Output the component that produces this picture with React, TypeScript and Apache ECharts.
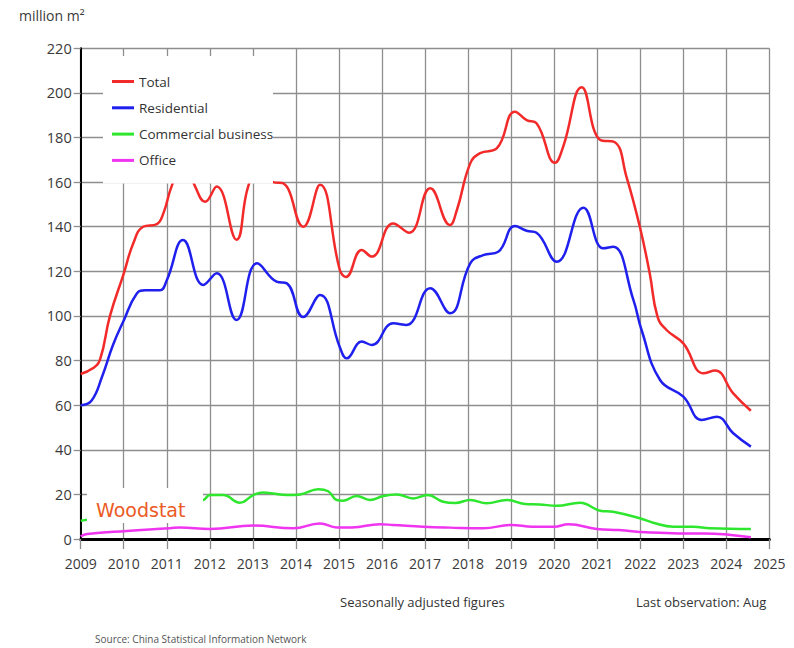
import React, { useEffect, useRef } from "react";
import * as echarts from "echarts";

// ---- Data ----
const seriesNames = ["Total", "Residential", "Commercial business", "Office"];
const xTickYears = [2009, 2025];

const totalT = [2009.0, 2009.28, 2009.45, 2009.68, 2010.0, 2010.22, 2010.45, 2010.77, 2010.92, 2011.11, 2011.4, 2011.66, 2011.89, 2012.16, 2012.62, 2012.89, 2013.15, 2013.47, 2013.7, 2014.17, 2014.56, 2015.02, 2015.16, 2015.53, 2015.76, 2016.26, 2016.63, 2017.12, 2017.58, 2017.74, 2018.05, 2018.28, 2018.67, 2019.09, 2019.36, 2019.59, 2020.02, 2020.21, 2020.64, 2021.07, 2021.4, 2021.68, 2021.99, 2022.22, 2022.4, 2022.61, 2023.0, 2023.47, 2023.74, 2024.16, 2024.57];
const totalV = [74, 76.5, 80.5, 100, 119, 132.5, 140, 141.2, 146, 158, 170, 158, 151.2, 158, 134.2, 158, 166, 160, 159.5, 140, 158.8, 120.6, 117.5, 129.6, 126.6, 141.5, 137.3, 157.2, 140.8, 147.5, 168.4, 173, 175.2, 191.6, 187.8, 186.4, 168.7, 175.9, 202.5, 178.9, 178, 162.4, 140, 119, 99.7, 93.7, 87.7, 74.3, 75.5, 65.3, 57.5];

const resT = [2009.0, 2009.25, 2009.5, 2009.75, 2010.0, 2010.3, 2010.5, 2010.84, 2011.0, 2011.38, 2011.85, 2012.16, 2012.62, 2013.1, 2013.55, 2013.79, 2014.17, 2014.56, 2015.02, 2015.18, 2015.53, 2015.76, 2016.26, 2016.57, 2017.12, 2017.58, 2018.05, 2018.35, 2018.7, 2019.09, 2019.36, 2019.59, 2020.06, 2020.68, 2021.14, 2021.37, 2021.84, 2022.03, 2022.46, 2023.0, 2023.43, 2023.78, 2024.16, 2024.57];
const resV = [60, 62, 73, 87, 98, 110, 111.5, 111.5, 116, 134, 113.9, 119.1, 98.2, 123.6, 115.4, 114.6, 99.5, 109.4, 86, 81, 88.5, 87, 96.7, 96, 112.4, 101.2, 123.6, 127.3, 128.8, 140.3, 138.2, 137.3, 124.3, 148.5, 130.3, 131, 107.2, 93.7, 71.3, 63.8, 53.4, 54.8, 47.4, 41.4];

const comT = [2009.0, 2009.18, 2009.6, 2010.2, 2010.8, 2011.4, 2011.85, 2012.0, 2012.31, 2012.7, 2013.01, 2013.24, 2013.46, 2013.79, 2014.1, 2014.52, 2014.75, 2014.95, 2015.1, 2015.41, 2015.72, 2016.03, 2016.34, 2016.73, 2017.06, 2017.42, 2017.7, 2018.05, 2018.43, 2018.9, 2019.32, 2019.66, 2020.06, 2020.6, 2021.07, 2021.37, 2021.99, 2022.3, 2022.77, 2023.23, 2023.62, 2024.57];
const comV = [8.2, 8.8, 10.5, 13, 15, 16.5, 17.5, 19.7, 19.7, 16.3, 19.7, 20.9, 20.4, 19.7, 20, 22.3, 21.4, 17.5, 17.2, 19.3, 17.5, 19.3, 20, 18.2, 19.7, 16.7, 16.1, 17.5, 16, 17.5, 15.7, 15.5, 14.9, 16.3, 12.7, 12.2, 9.3, 7.3, 5.5, 5.5, 4.8, 4.5];

const offT = [2009.0, 2009.15, 2010.07, 2011.07, 2011.3, 2012.0, 2013.01, 2013.94, 2014.56, 2014.95, 2015.3, 2015.95, 2016.26, 2016.96, 2017.58, 2018.35, 2019.0, 2019.5, 2020.0, 2020.33, 2020.99, 2021.5, 2022.15, 2022.9, 2023.5, 2024.1, 2024.57];
const offV = [1.2, 2.2, 3.6, 4.8, 5.2, 4.5, 6.0, 4.8, 7.0, 5.2, 5.2, 6.6, 6.3, 5.5, 5.1, 4.8, 6.3, 5.5, 5.5, 6.6, 4.5, 4.0, 3.0, 2.5, 2.5, 1.8, 0.8];

const yRange = [0, 220];
const colors = ["#f22a2a", "#2020ee", "#2ee62e", "#f035f0"];

const zip = (t: number[], v: number[]) => t.map((x, i) => [x, v[i]]);

const FONT = "'Open Sans', 'Noto Sans', sans-serif";
const GRID_COLOR = "#8e8e8e";

export default function App() {
  const ref = useRef<HTMLDivElement>(null);

  useEffect(() => {
    if (!ref.current) return;
    const chart = echarts.init(ref.current, null, { renderer: "svg" });
    const datasets = [zip(totalT, totalV), zip(resT, resV), zip(comT, comV), zip(offT, offV)];
    const option: any = {
      animation: false,
      backgroundColor: "#fff",
      textStyle: { fontFamily: FONT },
      grid: { left: 80.7, right: 24.6, top: 48.3, bottom: 109 },
      xAxis: {
        type: "value",
        min: xTickYears[0],
        max: xTickYears[1],
        interval: 1,
        axisLine: { show: true, onZero: false, lineStyle: { color: "#000", width: 3 } },
        axisTick: { show: true, length: 10, lineStyle: { color: GRID_COLOR, width: 1.3 } },
        axisLabel: { formatter: (v: number) => String(v), fontSize: 14, color: "#3a3a3a", margin: 17, fontFamily: FONT },
        splitLine: { show: true, lineStyle: { color: GRID_COLOR, width: 1.3 } },
      },
      yAxis: {
        type: "value",
        min: yRange[0],
        max: yRange[1],
        interval: 20,
        axisLine: { show: true, lineStyle: { color: "#000", width: 2 } },
        axisTick: { show: true, length: 7, lineStyle: { color: GRID_COLOR, width: 1.3 } },
        axisLabel: { fontSize: 14.5, color: "#3a3a3a", margin: 9, fontFamily: FONT },
        splitLine: { show: true, lineStyle: { color: GRID_COLOR, width: 1.3 } },
      },
      legend: {
        orient: "vertical",
        left: 107,
        top: 68.5,
        itemWidth: 22,
        itemHeight: 3,
        itemGap: 10.3,
        icon: "rect",
        selectedMode: false,
        z: 110,
        data: seriesNames,
        textStyle: { fontSize: 13.5, color: "#333", lineHeight: 16, fontFamily: FONT },
      },
      series: seriesNames.map((name, i) => ({
        name,
        type: "line",
        data: datasets[i],
        smooth: 0.45,
        showSymbol: false,
        color: colors[i],
        lineStyle: { width: 2.5, color: colors[i] },
      })),
      graphic: [
        { type: "rect", shape: { x: 103, y: 56, width: 170, height: 127.5 }, style: { fill: "#fff" }, z: 100, silent: true },
        { type: "rect", shape: { x: 87, y: 488, width: 116, height: 35 }, style: { fill: "#fff" }, z: 100, silent: true },
        { type: "text", x: 96, y: 510, z: 101, style: { text: "Woodstat", fill: "#ec5a24", fontSize: 19, fontFamily: "'DejaVu Sans', sans-serif", verticalAlign: "middle", align: "left" } },
        { type: "text", x: 19, y: 15, z: 101, style: { text: "million m²", fill: "#3a3a3a", fontSize: 14, fontFamily: FONT, verticalAlign: "middle", align: "left" } },
        { type: "text", x: 340, y: 602, z: 101, style: { text: "Seasonally adjusted figures", fill: "#333", fontSize: 13, fontFamily: FONT, verticalAlign: "middle", align: "left" } },
        { type: "text", x: 636, y: 602, z: 101, style: { text: "Last observation: Aug", fill: "#333", fontSize: 13, fontFamily: FONT, verticalAlign: "middle", align: "left" } },
        { type: "text", x: 95, y: 639, z: 101, style: { text: "Source: China Statistical Information Network", fill: "#555", fontSize: 10, fontFamily: FONT, verticalAlign: "middle", align: "left" } },
      ],
    };
    chart.setOption(option);
    return () => chart.dispose();
  }, []);

  return (
    <div
      ref={ref}
      style={{ position: "fixed", left: 0, top: 0, width: 794, height: 648, background: "#fff" }}
    />
  );
}
